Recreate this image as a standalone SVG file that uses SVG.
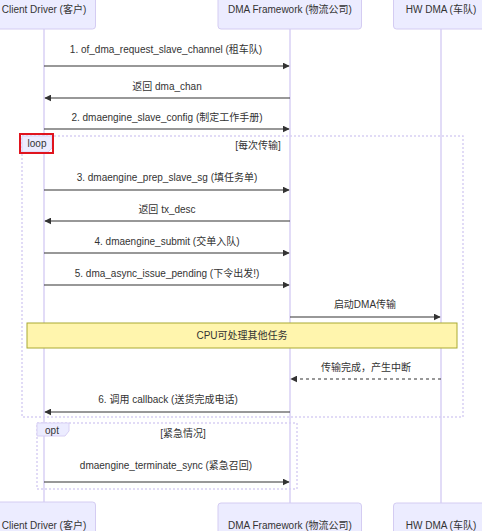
<svg xmlns="http://www.w3.org/2000/svg" width="482" height="531" viewBox="0 0 482 531">
<defs>
<marker id="ah" viewBox="0 0 10 10" refX="9" refY="5" markerWidth="7" markerHeight="7" markerUnits="userSpaceOnUse" orient="auto-start-reverse">
<path d="M0,0 L10,5 L0,10 z" fill="#333"/>
</marker>
<style>
text{font-family:"Liberation Sans","Noto Sans CJK SC",sans-serif;font-size:10px;fill:#333;text-anchor:middle;dominant-baseline:central}
.actor{fill:#ECECFF;stroke:#d4ccf2;stroke-width:1}
.life{stroke:#d8d0f4;stroke-width:1.5}
.msg{stroke:#333;stroke-width:1.2;fill:none;marker-end:url(#ah)}
.dash{stroke-dasharray:3,3}
.frame{fill:none;stroke:#d8d0f4;stroke-width:1.5;stroke-dasharray:2,2}
.lbl{fill:#ECECFF;stroke:#d8d0f4;stroke-width:1}
</style>
</defs>
<rect width="482" height="531" fill="#fff"/>
<g id="lifelines">
<line class="life" x1="44" y1="29" x2="44" y2="502"/>
<line class="life" x1="290" y1="29" x2="290" y2="503"/>
<line class="life" x1="441" y1="29" x2="441" y2="503"/>
</g>
<g id="actor-client">
<rect class="actor" x="-10" y="-10" width="105.5" height="39" rx="3"/>
<text x="44" y="9">Client Driver (客户)</text>
<rect class="actor" x="-10" y="502" width="105.5" height="40" rx="3"/>
<text x="44" y="525">Client Driver (客户)</text>
</g>
<g id="actor-framework">
<rect class="actor" x="218" y="-10" width="143.5" height="39" rx="3"/>
<text x="290" y="9">DMA Framework (物流公司)</text>
<rect class="actor" x="218" y="503" width="143.5" height="40" rx="3"/>
<text x="290" y="525">DMA Framework (物流公司)</text>
</g>
<g id="actor-hw">
<rect class="actor" x="393.5" y="-10" width="100" height="39" rx="3"/>
<text x="441" y="9">HW DMA (车队)</text>
<rect class="actor" x="393.5" y="503" width="100" height="40" rx="3"/>
<text x="441" y="525">HW DMA (车队)</text>
</g>
<g id="loop">
<rect class="frame" x="22" y="136" width="441" height="281"/>
<polygon class="lbl" points="22,136 52,136 52,148 48,152 22,152"/>
<text x="37" y="143">loop</text>
<text x="258" y="145">[每次传输]</text>
<rect x="20" y="134" width="33" height="19" fill="none" stroke="#e0141e" stroke-width="2"/>
</g>
<g id="opt">
<rect class="frame" x="37" y="423" width="260" height="66"/>
<polygon class="lbl" points="37,423 69,423 69,431 65,436 37,436"/>
<text x="52" y="430">opt</text>
<text x="183" y="433">[紧急情况]</text>
</g>
<g id="note">
<rect x="27" y="323" width="430" height="25" fill="#fff5ad" stroke="#aaaa33" stroke-width="1"/>
<text x="242" y="335">CPU可处理其他任务</text>
</g>
<g id="connectors">
<line class="msg" x1="44" y1="66" x2="289" y2="66"/>
<line class="msg" x1="290" y1="98" x2="45" y2="98"/>
<line class="msg" x1="44" y1="129" x2="289" y2="129"/>
<line class="msg" x1="44" y1="190" x2="289" y2="190"/>
<line class="msg" x1="290" y1="221" x2="45" y2="221"/>
<line class="msg" x1="44" y1="253" x2="289" y2="253"/>
<line class="msg" x1="44" y1="285" x2="289" y2="285"/>
<line class="msg" x1="290" y1="317" x2="440" y2="317"/>
<line class="msg dash" x1="441" y1="379" x2="291" y2="379"/>
<line class="msg" x1="290" y1="412" x2="45" y2="412"/>
<line class="msg" x1="44" y1="482" x2="289" y2="482"/>
</g>
<g id="labels">
<text x="166" y="49">1. of_dma_request_slave_channel (租车队)</text>
<text x="167" y="86">返回 dma_chan</text>
<text x="167" y="117">2. dmaengine_slave_config (制定工作手册)</text>
<text x="167" y="177">3. dmaengine_prep_slave_sg (填任务单)</text>
<text x="167" y="209">返回 tx_desc</text>
<text x="167" y="241">4. dmaengine_submit (交单入队)</text>
<text x="167" y="273">5. dma_async_issue_pending (下令出发!)</text>
<text x="365" y="304">启动DMA传输</text>
<text x="366" y="367">传输完成，产生中断</text>
<text x="168" y="399">6. 调用 callback (送货完成电话)</text>
<text x="166" y="465">dmaengine_terminate_sync (紧急召回)</text>
</g>
</svg>
